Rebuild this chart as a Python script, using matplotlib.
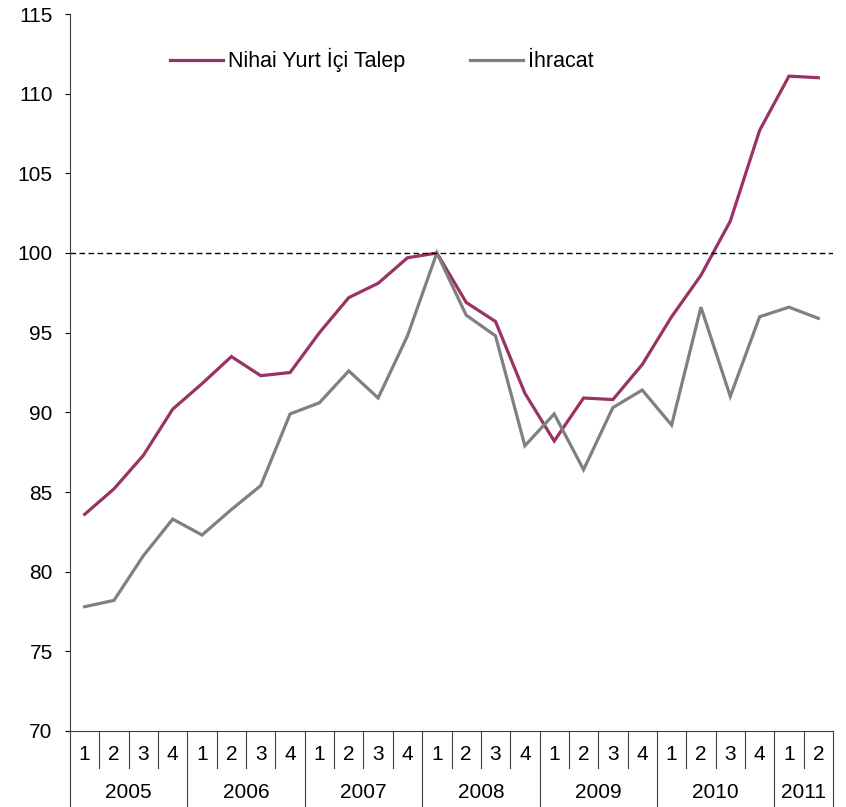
import numpy as np
import matplotlib
matplotlib.use("Agg")
from matplotlib import pyplot as plt
import matplotlib.transforms as mtransforms

plt.rcParams['font.family'] = ['Liberation Sans', 'DejaVu Sans']

years = ['2005', '2006', '2007', '2008', '2009', '2010', '2011']
quarters = ['1', '2', '3', '4'] * 6 + ['1', '2']

nihai = [83.6, 85.2, 87.3, 90.2,
         91.8, 93.5, 92.3, 92.5,
         95.0, 97.2, 98.1, 99.7,
         100.0, 96.9, 95.7, 91.2,
         88.2, 90.9, 90.8, 93.0,
         96.0, 98.6, 102.0, 107.7,
         111.1, 111.0]
ihracat = [77.8, 78.2, 81.0, 83.3,
           82.3, 83.9, 85.4, 89.9,
           90.6, 92.6, 90.9, 94.8,
           100.0, 96.1, 94.8, 87.9,
           89.9, 86.4, 90.3, 91.4,
           89.2, 96.6, 91.0, 96.0,
           96.6, 95.9]

n = len(quarters)
x = np.arange(n) + 0.5
fs = 15

fig = plt.figure(figsize=(8.46, 8.07), dpi=100)
ax = fig.add_axes([70/846, 76/807, 763/846, 717/807])

ax.plot(x, nihai, color='#993366', lw=2.3, label='Nihai Yurt İçi Talep', solid_joinstyle='miter')
ax.plot(x, ihracat, color='#808080', lw=2.3, label='İhracat', solid_joinstyle='miter')
ax.axhline(100, color='black', lw=1.0, ls=(0, (4, 2.5)))

ax.set_xlim(0, n)
ax.set_ylim(70, 115)
ax.set_yticks(np.arange(70, 116, 5))
ax.tick_params(axis='y', labelsize=fs, direction='out', length=3.5, width=0.8, pad=9)
ax.set_xticks([])

for s in ['top', 'right']:
    ax.spines[s].set_visible(False)
ax.spines['left'].set_color('#404040')
ax.spines['bottom'].set_color('#404040')

# category axis: quarter and year labels with separators
trans = mtransforms.blended_transform_factory(ax.transData, ax.transAxes)
q_y = -24/717
y_y = -62/717
for i, q in enumerate(quarters):
    ax.text(i + 0.5, q_y, q, transform=trans, ha='center', va='center', fontsize=fs)
    if i % 4 != 0:
        ax.plot([i, i], [0, -37/717], transform=trans, color='#404040', lw=0.8, clip_on=False)
for k, yr in enumerate(years):
    start = 4 * k
    end = min(4 * k + 4, n)
    ax.text((start + end) / 2, y_y, yr, transform=trans, ha='center', va='center', fontsize=fs)
for b in list(range(0, n, 4)) + [n]:
    ax.plot([b, b], [0, -76/717], transform=trans, color='#404040', lw=0.8, clip_on=False)

ax.legend(loc='center left', bbox_to_anchor=((170-70)/763, (731-60)/717), ncol=2,
          frameon=False, fontsize=15.5, handlelength=2.45, handletextpad=0.25,
          columnspacing=3.0, borderpad=0, borderaxespad=0)

fig.savefig('out.png', dpi=100)
